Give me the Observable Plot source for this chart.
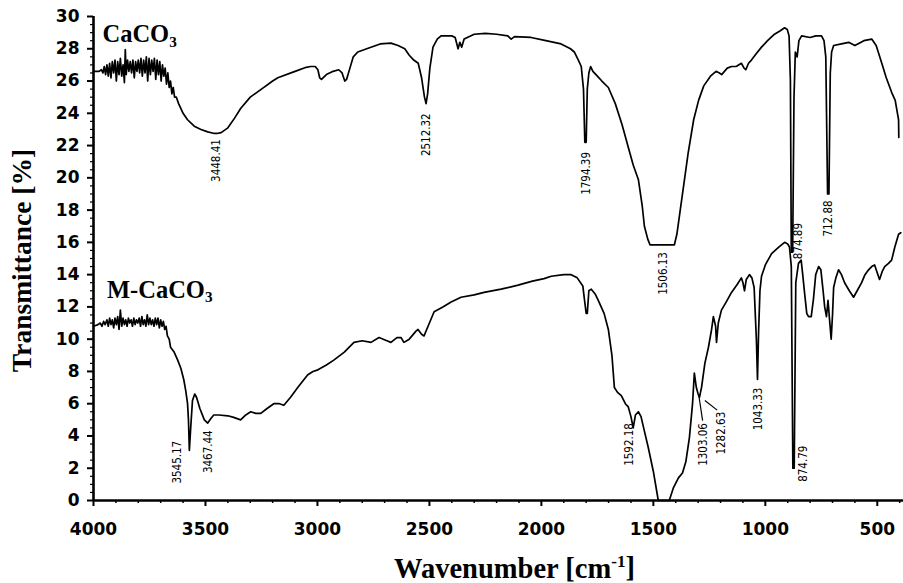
<!DOCTYPE html>
<html>
<head>
<meta charset="utf-8">
<script src="https://cdn.jsdelivr.net/npm/d3@7"></script>
<script src="https://cdn.jsdelivr.net/npm/@observablehq/plot@0.6"></script>
<style>
  html, body { margin: 0; padding: 0; background: #fff; }
  #chart { width: 903px; height: 583px; }
</style>
</head>
<body>
<div id="chart"></div>
<script>
// ---- Data ----
const xMajorTicks = [4000, 3500, 3000, 2500, 2000, 1500, 1000, 500];
const xMinorTicks = [3900,3800,3700,3600,3400,3300,3200,3100,2900,2800,2700,2600,2400,2300,2200,2100,1900,1800,1700,1600,1400,1300,1200,1100,900,800,700,600,400];
const yMajorTicks = [0, 2, 4, 6, 8, 10, 12, 14, 16, 18, 20, 22, 24, 26, 28, 30];
const yMinorTicks = [0.5,1,1.5,2.5,3,3.5,4.5,5,5.5,6.5,7,7.5,8.5,9,9.5,10.5,11,11.5,12.5,13,13.5,14.5,15,15.5,16.5,17,17.5,18.5,19,19.5,20.5,21,21.5,22.5,23,23.5,24.5,25,25.5,26.5,27,27.5,28.5,29,29.5];

const seriesNames = ["CaCO3", "M-CaCO3"];

// CaCO3 spectrum: [wavenumber, transmittance %]
const caco3 = [
 [4000,26.6],[3990,26.6],[3975,26.6],[3965,26.7],[3958,26.5],[3952,26.9],[3946,26.4],[3940,27.0],[3934,26.3],[3928,27.1],
 [3922,26.2],[3916,27.2],[3910,26.5],[3904,27.3],[3898,26.0],[3892,27.2],[3886,26.4],[3880,27.4],[3874,26.3],[3868,27.0],
 [3862,25.9],[3858,27.95],[3854,26.4],[3848,27.3],[3842,26.6],[3836,27.2],[3830,26.5],[3824,27.3],[3818,26.2],[3812,27.2],
 [3806,26.6],[3800,27.3],[3794,26.5],[3788,27.4],[3782,26.3],[3776,27.3],[3770,26.5],[3764,27.5],[3758,26.0],[3752,27.4],
 [3746,26.4],[3740,27.3],[3734,26.6],[3728,27.4],[3722,26.1],[3716,27.3],[3710,26.4],[3704,27.2],[3698,26.0],[3692,27.0],
 [3686,26.3],[3680,26.8],[3674,25.8],[3668,26.5],[3662,25.6],[3656,26.0],[3650,25.2],[3644,25.6],[3638,25.0],[3630,25.0],
 [3620,24.6],[3610,24.3],[3600,24.0],[3580,23.6],[3550,23.2],[3520,23.0],[3490,22.85],[3460,22.75],[3448,22.75],[3430,22.8],
 [3400,23.1],[3370,23.7],[3343,24.3],[3300,25.0],[3250,25.5],[3200,26.0],[3177,26.2],[3100,26.6],[3050,26.85],[3030,26.9],
 [3010,26.9],[2998,26.7],[2990,26.2],[2982,26.1],[2960,26.4],[2930,26.6],[2905,26.7],[2890,26.5],[2878,26.0],[2870,26.1],
 [2855,26.8],[2840,27.5],[2820,27.8],[2780,28.0],[2720,28.3],[2672,28.35],[2640,28.2],[2610,28.0],[2590,27.6],[2570,27.3],
 [2550,27.1],[2535,26.2],[2522,25.0],[2515,24.6],[2508,25.2],[2498,26.8],[2484,28.1],[2465,28.6],[2448,28.8],[2400,28.8],
 [2385,28.7],[2372,28.0],[2364,28.4],[2356,28.1],[2345,28.6],[2300,28.9],[2250,28.95],[2200,28.9],[2150,28.8],[2135,28.6],
 [2120,28.75],[2046,28.7],[1980,28.5],[1912,28.3],[1870,28.0],[1853,27.8],[1835,27.3],[1822,26.9],[1812,25.5],[1806,22.2],
 [1800,22.2],[1795,25.5],[1788,26.5],[1780,26.9],[1770,26.6],[1750,26.3],[1730,26.0],[1701,25.6],[1670,24.6],[1640,23.3],
 [1612,21.9],[1590,20.8],[1567,19.9],[1550,18.3],[1540,17.0],[1525,16.2],[1515,15.85],[1460,15.85],[1406,15.85],[1395,16.5],
 [1380,18.0],[1366,19.4],[1345,21.5],[1320,23.6],[1298,24.8],[1275,25.7],[1245,26.3],[1220,26.6],[1205,26.5],[1195,26.4],
 [1170,26.8],[1151,26.9],[1130,26.9],[1107,27.1],[1095,26.8],[1087,26.7],[1075,27.1],[1062,27.3],[1040,27.7],[1017,28.1],
 [990,28.5],[959,28.9],[935,29.1],[914,29.3],[902,29.2],[894,28.8],[888,26.0],[884,15.4],[878,15.4],[872,25.0],
 [866,27.8],[858,27.5],[850,28.5],[838,28.8],[800,28.7],[775,28.8],[749,28.8],[738,28.5],[730,27.5],[722,19.0],
 [716,19.0],[710,26.5],[704,27.8],[695,28.2],[660,28.3],[628,28.4],[600,28.2],[560,28.5],[525,28.6],[505,28.2],
 [480,27.1],[460,26.2],[436,25.3],[420,24.8],[410,24.0],[405,23.6],[404,22.5]
];

// M-CaCO3 spectrum: [wavenumber, transmittance %]
const mcaco3 = [
 [4000,10.8],[3990,10.85],[3980,10.9],[3970,11.0],[3962,10.8],[3955,11.1],[3948,10.9],[3940,11.2],[3934,10.8],[3928,11.3],
 [3922,10.9],[3916,11.2],[3910,10.7],[3904,11.3],[3898,10.9],[3892,11.4],[3886,10.6],[3880,11.8],[3874,10.8],[3868,11.3],
 [3862,10.9],[3856,11.2],[3850,10.8],[3844,11.3],[3838,11.0],[3832,11.2],[3826,10.8],[3820,11.3],[3814,10.9],[3808,11.2],
 [3802,11.0],[3796,11.3],[3790,10.8],[3784,11.4],[3778,10.9],[3772,11.2],[3766,10.8],[3760,11.5],[3754,10.9],[3748,11.3],
 [3742,10.9],[3736,11.2],[3730,10.8],[3724,11.3],[3718,10.9],[3712,11.3],[3706,10.7],[3700,11.2],[3694,10.8],[3688,11.1],
 [3682,10.6],[3676,10.8],[3670,10.2],[3662,10.0],[3656,9.5],[3640,9.2],[3624,8.7],[3610,8.2],[3597,7.5],[3588,6.8],
 [3580,6.0],[3576,5.0],[3572,3.1],[3566,4.5],[3558,6.2],[3548,6.6],[3540,6.4],[3525,5.7],[3505,5.0],[3490,4.8],
 [3475,5.1],[3463,5.3],[3440,5.3],[3400,5.25],[3374,5.15],[3343,5.0],[3320,5.3],[3298,5.5],[3275,5.4],[3253,5.4],
 [3225,5.7],[3195,6.0],[3170,6.0],[3150,5.9],[3120,6.4],[3088,7.0],[3060,7.5],[3043,7.8],[3020,8.0],[2998,8.1],
 [2960,8.4],[2927,8.7],[2880,9.2],[2837,9.8],[2800,9.9],[2761,9.8],[2725,10.1],[2690,9.9],[2672,9.8],[2645,10.1],
 [2627,10.1],[2614,9.8],[2590,10.0],[2560,10.5],[2551,10.6],[2535,10.3],[2524,10.2],[2500,11.0],[2479,11.7],[2440,12.0],
 [2403,12.3],[2359,12.6],[2300,12.75],[2256,12.9],[2180,13.1],[2104,13.35],[2040,13.6],[1988,13.75],[1956,13.9],[1900,14.0],
 [1867,14.0],[1840,13.8],[1815,13.3],[1809,12.6],[1800,11.6],[1795,11.6],[1788,13.0],[1777,13.1],[1760,12.8],[1746,12.4],
 [1720,11.6],[1701,10.6],[1685,9.0],[1674,7.0],[1660,6.7],[1643,6.5],[1625,6.0],[1612,5.8],[1600,5.2],[1590,4.5],
 [1580,5.3],[1567,5.5],[1555,5.2],[1540,4.3],[1523,3.3],[1500,1.8],[1478,0],[1429,0],[1410,0.8],[1388,1.4],
 [1370,1.7],[1355,2.4],[1339,3.9],[1325,6.0],[1317,7.9],[1308,7.0],[1300,6.6],[1294,6.4],[1285,7.0],[1270,8.5],
 [1254,9.5],[1240,10.6],[1232,11.4],[1222,10.8],[1218,9.8],[1210,11.0],[1196,11.8],[1175,12.3],[1151,12.9],[1125,13.4],
 [1107,13.8],[1100,13.5],[1093,13.0],[1085,13.7],[1071,14.0],[1060,13.8],[1050,13.2],[1040,10.0],[1035,7.5],[1030,10.5],
 [1024,13.0],[1017,13.9],[1000,14.6],[972,15.3],[940,15.7],[914,16.0],[900,15.9],[892,15.7],[884,14.5],[877,2.0],
 [871,2.0],[864,13.5],[852,14.7],[840,14.9],[833,14.0],[825,12.9],[815,11.6],[807,11.4],[795,11.4],[785,12.5],
 [775,14.0],[762,14.5],[752,14.3],[742,13.0],[735,12.0],[727,11.4],[720,12.4],[712,11.0],[706,10.0],[700,11.5],
 [695,13.2],[685,13.8],[673,14.3],[660,14.0],[646,13.5],[625,13.0],[606,12.6],[590,13.0],[570,13.5],[555,14.0],
 [539,14.3],[525,14.5],[512,14.6],[500,14.1],[490,13.7],[478,14.2],[467,14.5],[450,14.7],[436,14.9],[422,15.7],
 [405,16.5],[395,16.6]
];

// Peak annotations (label text, wavenumber position, top of label in %)
const caco3PeakLabels = ["3448.41", "2512.32", "1794.39", "1506.13", "874.89", "712.88"];
const caco3PeakX      = [3452, 2515, 1800, 1457, 853, 718];
const caco3PeakY      = [22.4, 24.0, 21.6, 15.4, 17.2, 18.6];

const mcaco3PeakLabels = ["3545.17", "3467.44", "1592.18", "1303.06", "1282.63", "1043.33", "874.79"];
const mcaco3PeakX      = [3626, 3487, 1608, 1278, 1198, 1033, 830];
const mcaco3PeakY      = [3.7, 4.35, 4.8, 4.8, 5.5, 7.0, 3.4];

// leader lines for the two close peaks: [x1, y1, x2, y2]
const leaderLines = [[1298, 6.6, 1280, 4.95], [1270, 6.2, 1215, 5.6]];

// series label positions
const seriesLabelX = [3960, 3940];
const seriesLabelY = [28.39, 12.58];

// ---- Build tables ----
const lineData = [
  ...caco3.map(([wn, t]) => ({series: seriesNames[0], wn, t})),
  ...mcaco3.map(([wn, t]) => ({series: seriesNames[1], wn, t}))
];
const peakData = [
  ...caco3PeakLabels.map((label, i) => ({label, wn: caco3PeakX[i], t: caco3PeakY[i]})),
  ...mcaco3PeakLabels.map((label, i) => ({label, wn: mcaco3PeakX[i], t: mcaco3PeakY[i]}))
];
const leaderData = leaderLines.map(([x1, y1, x2, y2]) => ({x1, y1, x2, y2}));
const seriesLabelData = seriesNames.map((name, i) => ({name, wn: seriesLabelX[i], t: seriesLabelY[i]}));

const tickFont = "DejaVu Sans, Verdana, sans-serif";
const serifFont = "Liberation Serif, Times New Roman, serif";

const chart = Plot.plot({
  width: 903,
  height: 583,
  marginLeft: 93,
  marginRight: 0,
  marginTop: 16,
  marginBottom: 83,
  style: {background: "#fff", color: "#000", overflow: "visible"},
  x: {domain: [4000, 383], axis: null},
  y: {domain: [0, 30], axis: null},
  marks: [
    // minor ticks
    Plot.axisX({ticks: xMinorTicks, tickSize: 3, tickFormat: () => "", label: null, strokeWidth: 1.5}),
    Plot.axisY({ticks: yMinorTicks, tickSize: 3, tickFormat: () => "", label: null, strokeWidth: 1.2}),
    // major ticks with labels
    Plot.axisX({ticks: xMajorTicks, tickSize: 6, tickPadding: 16, tickFormat: d => String(d), label: null,
      fontSize: 17, fontWeight: "bold", fontFamily: tickFont, strokeWidth: 2}),
    Plot.axisY({ticks: yMajorTicks, tickSize: 6, tickPadding: 8, tickFormat: d => String(d), label: null,
      fontSize: 17, fontWeight: "bold", fontFamily: tickFont, strokeWidth: 2}),
    // axis lines
    Plot.ruleX([4000], {stroke: "#000", strokeWidth: 2.6}),
    Plot.ruleY([0], {stroke: "#000", strokeWidth: 2.6}),
    // spectra
    Plot.line(lineData, {x: "wn", y: "t", z: "series", stroke: "#000", strokeWidth: 1.7, strokeLinejoin: "round"}),
    // leader lines
    Plot.link(leaderData, {x1: "x1", y1: "y1", x2: "x2", y2: "y2", stroke: "#000", strokeWidth: 1.2}),
    // peak labels
    Plot.text(peakData, {x: "wn", y: "t", text: "label", rotate: -90, textAnchor: "end", lineAnchor: "middle",
      fontSize: 11.5, fontFamily: "DejaVu Sans Condensed, DejaVu Sans, sans-serif", fill: "#000"}),
    // series labels
    Plot.text(seriesLabelData, {x: "wn", y: "t", text: "name", textAnchor: "start", lineAnchor: "bottom",
      fontSize: 24.5, fontWeight: "bold", fontFamily: serifFont, fill: "#000"}),
    // axis titles
    Plot.text(["Transmittance [%]"], {frameAnchor: "left", text: d => d, rotate: -90, dx: -71, dy: 2,
      textAnchor: "middle", lineAnchor: "middle",
      fontSize: 27.5, fontWeight: "bold", fontFamily: serifFont, fill: "#000"}),
    Plot.text(["Wavenumber [cm-1]"], {frameAnchor: "bottom", text: d => d, dx: 16, dy: 77,
      textAnchor: "middle", lineAnchor: "bottom",
      fontSize: 28.5, fontWeight: "bold", fontFamily: serifFont, fill: "#000"})
  ]
});

// subscripts / superscripts
d3.select(chart).selectAll("text").each(function () {
  const t = this.textContent;
  const sel = d3.select(this);
  if (t === "CaCO3" || t === "M-CaCO3") {
    sel.text(null);
    sel.append("tspan").text(t.slice(0, -1));
    sel.append("tspan").attr("font-size", "0.62em").attr("dy", "0.28em").text("3");
  } else if (t === "Wavenumber [cm-1]") {
    sel.text(null);
    sel.append("tspan").text("Wavenumber [cm");
    sel.append("tspan").attr("font-size", "0.6em").attr("dy", "-0.62em").text("-1");
    sel.append("tspan").attr("dy", "0.37em").text("]");
  }
});

document.getElementById("chart").appendChild(chart);
</script>
</body>
</html>
